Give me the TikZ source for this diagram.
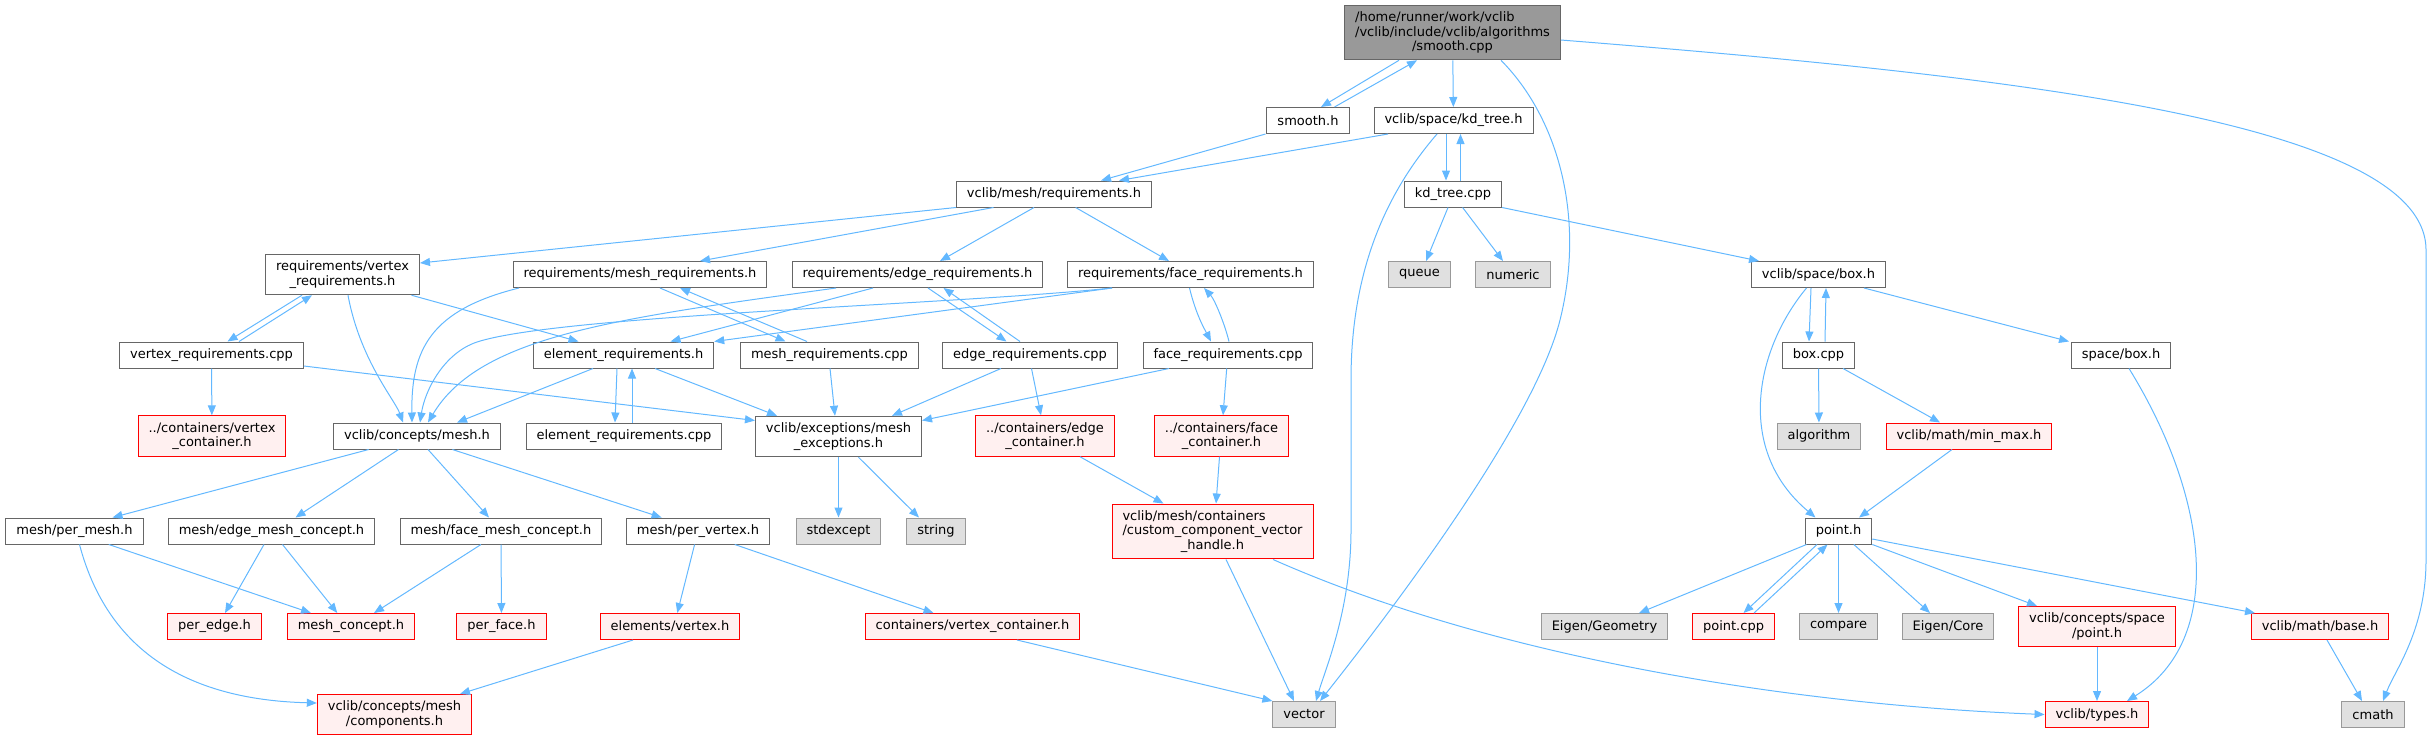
\documentclass[tikz,border=0pt]{standalone}
\usepackage{fontspec}
\setmainfont{DejaVu Sans}
\usepackage{xcolor}
\usepackage{tikz}
\usetikzlibrary{arrows.meta}
\definecolor{edgeblue}{HTML}{63B8FF}

\begin{document}
\begin{tikzpicture}[x=1pt, y=-1pt,
  fl/.style={draw=black!60, line width=1pt, fill=white, align=center, font=\fontsize{13}{14.5}\selectfont, inner xsep=10.5pt, inner ysep=6.5pt, minimum height=26pt},
  sy/.style={fl, draw=black!40, fill=black!12},
  rd/.style={fl, draw=red, fill=red!6},
  cur/.style={fl, fill=black!40},
  arr/.style={-{Triangle[length=10pt,width=8pt]}, line width=1pt, draw=edgeblue}]
\useasboundingbox (0,0) rectangle (2432,740);
\node[cur] (rt) at (1452.5,32.5) {\rlap{/home/runner/work/vclib}\hphantom{/vclib/include/vclib/algorithms}\\/vclib/include/vclib/algorithms\\/smooth.cpp};
\node[fl] (smh) at (1308,120.5) {smooth.h};
\node[fl] (kdh) at (1453.5,120.5) {vclib/space/kd\_tree.h};
\node[fl] (mreq) at (1054,194) {vclib/mesh/requirements.h};
\node[fl] (kdc) at (1453,194) {kd\_tree.cpp};
\node[fl] (vrh) at (342.5,274.5) {requirements/vertex\\\_requirements.h};
\node[fl] (mrh) at (640,274.5) {requirements/mesh\_requirements.h};
\node[fl] (erh) at (917.5,274.5) {requirements/edge\_requirements.h};
\node[fl] (frh) at (1190.5,274.5) {requirements/face\_requirements.h};
\node[sy] (que) at (1419.5,274.5) {queue};
\node[sy] (num) at (1513,274.5) {numeric};
\node[fl] (bxh) at (1818.5,274.5) {vclib/space/box.h};
\node[fl] (vrc) at (211.5,355) {vertex\_requirements.cpp};
\node[fl] (elh) at (623.5,355) {element\_requirements.h};
\node[fl] (mrc) at (829.5,355) {mesh\_requirements.cpp};
\node[fl] (erc) at (1030,355) {edge\_requirements.cpp};
\node[fl] (frc) at (1228,355) {face\_requirements.cpp};
\node[fl] (bxc) at (1818.5,355) {box.cpp};
\node[fl] (sbx) at (2121,355) {space/box.h};
\node[rd] (vcn) at (212,436) {../containers/vertex\\\_container.h};
\node[fl] (cmh) at (417,436) {vclib/concepts/mesh.h};
\node[fl] (elc) at (624,436) {element\_requirements.cpp};
\node[fl] (exc) at (838.5,436.5) {vclib/exceptions/mesh\\\_exceptions.h};
\node[rd] (ecn) at (1045,436) {../containers/edge\\\_container.h};
\node[rd] (fcn) at (1221.5,436) {../containers/face\\\_container.h};
\node[sy] (alg) at (1819,436) {algorithm};
\node[rd] (mmx) at (1969,436) {vclib/math/min\_max.h};
\node[fl] (pmh) at (74.5,531) {mesh/per\_mesh.h};
\node[fl] (emc) at (271.5,531) {mesh/edge\_mesh\_concept.h};
\node[fl] (fmc) at (501,531) {mesh/face\_mesh\_concept.h};
\node[fl] (pvx) at (698,531) {mesh/per\_vertex.h};
\node[sy] (sex) at (838.5,531) {stdexcept};
\node[sy] (str) at (936,531) {string};
\node[rd] (cvh) at (1212.5,531.5) {\rlap{vclib/mesh/containers}\hphantom{/custom\_component\_vector}\\/custom\_component\_vector\\\_handle.h};
\node[fl] (pth) at (1838.5,531) {point.h};
\node[rd] (ped) at (214.5,626.5) {per\_edge.h};
\node[rd] (mcp) at (351,626.5) {mesh\_concept.h};
\node[rd] (pfc) at (501.5,626.5) {per\_face.h};
\node[rd] (evx) at (670,626.5) {elements/vertex.h};
\node[rd] (cvc) at (972.5,626.5) {containers/vertex\_container.h};
\node[sy] (egm) at (1604.5,626.5) {Eigen/Geometry};
\node[rd] (ptc) at (1733.5,626.5) {point.cpp};
\node[sy] (cmp) at (1838.5,626.5) {compare};
\node[sy] (ecr) at (1948,626.5) {Eigen/Core};
\node[rd] (csp) at (2097,626.5) {vclib/concepts/space\\/point.h};
\node[rd] (mbs) at (2320,626.5) {vclib/math/base.h};
\node[rd] (cmpo) at (394.5,714.5) {vclib/concepts/mesh\\/components.h};
\node[sy] (vec) at (1304,714.5) {vector};
\node[rd] (typ) at (2097,714.5) {vclib/types.h};
\node[sy] (cmt) at (2373,714.5) {cmath};
\draw[arr] ([xshift=-53.5]rt.south) -- ([xshift=13]smh.north); \draw[arr] ([xshift=26.5]smh.north) -- ([xshift=-35.5]rt.south);
\draw[arr] (rt) -- (kdh);
\draw[arr] ([xshift=48.5]rt.south) .. controls (1560,120) and (1585,220) .. (1560,320) .. controls (1535,420) and (1400,600) .. ([xshift=16]vec.north);
\draw[arr] ([yshift=-7.5]rt.east) .. controls (2000,75) and (2426,120) .. (2426,250) -- (2426,560) .. controls (2426,630) and (2395,670) .. ([xshift=10]cmt.north);
\draw[arr] ([xshift=-42.5]smh.south) -- ([xshift=47]mreq.north); \draw[arr] ([xshift=-65.5]kdh.south) -- ([xshift=65]mreq.north);
\draw[arr] ([xshift=-7.5]kdh.south) -- ([xshift=-7]kdc.north); \draw[arr] ([xshift=7.5]kdc.north) -- ([xshift=7]kdh.south);
\draw[arr] ([xshift=-16.5]kdh.south) .. controls (1380,200) and (1351,280) .. (1351,380) -- (1351,530) .. controls (1351,610) and (1325,670) .. ([xshift=12]vec.north);
\draw[arr] ([xshift=-5]kdc.south) -- ([xshift=6.5]que.north); \draw[arr] ([xshift=9.6]kdc.south) -- ([xshift=-10]num.north);
\draw[arr] (kdc.south east) -- ([xshift=-59.5]bxh.north);
\draw[arr] (mreq.south west) -- ([yshift=11.5]vrh.east); \draw[arr] ([xshift=-60.5]mreq.south) -- ([xshift=60]mrh.north);
\draw[arr] ([xshift=-20]mreq.south) -- ([xshift=22.5]erh.north); \draw[arr] ([xshift=21.6]mreq.south) -- ([xshift=-21.5]frh.north);
\draw[arr] ([xshift=-40.5]vrh.south) -- ([xshift=16]vrc.north); \draw[arr] ([xshift=27.5]vrc.north) -- ([xshift=-30.5]vrh.south);
\draw[arr] ([xshift=69]vrh.south) -- ([xshift=-45]elh.north);
\draw[arr] ([xshift=5.5]vrh.south) .. controls (360,360) and (395,400) .. ([xshift=-14]cmh.north);
\draw[arr] (vrc) -- (vcn); \draw[arr] ([yshift=-11]vrc.east) -- ([yshift=16]exc.west);
\draw[arr] ([xshift=-121]mrh.south) .. controls (430,310) and (411,350) .. ([xshift=-5]cmh.north);
\draw[arr] ([xshift=20]mrh.south) -- ([xshift=-44]mrc.north); \draw[arr] ([xshift=-22.5]mrc.north) -- ([xshift=40]mrh.south);
\draw[arr] ([xshift=-81.5]erh.south) .. controls (620,318) and (480,335) .. ([xshift=11]cmh.north);
\draw[arr] ([xshift=-44.5]erh.south) -- ([xshift=47]elh.north);
\draw[arr] ([xshift=10.5]erh.south) -- ([xshift=-23.5]erc.north); \draw[arr] ([xshift=-10]erc.north) -- ([xshift=26]erh.south);
\draw[arr] ([xshift=-78.5]frh.south) .. controls (950,305) and (560,315) .. (477,342) .. controls (444,353) and (425,390) .. ([xshift=3]cmh.north);
\draw[arr] ([xshift=-78.5]frh.south) -- (elh.north east);
\draw[arr] ([xshift=-1]frh.south) .. controls (1196,315) and (1205,330) .. ([xshift=-17]frc.north);
\draw[arr] ([xshift=1]frc.north) .. controls (1225,325) and (1215,300) .. ([xshift=13.5]frh.south);
\draw[arr] ([xshift=-30.5]elh.south) -- ([xshift=40]cmh.north);
\draw[arr] ([xshift=-6.5]elh.south) -- ([xshift=-9]elc.north); \draw[arr] ([xshift=8]elc.north) -- ([xshift=8.5]elh.south);
\draw[arr] ([xshift=31.5]elh.south) -- ([xshift=-61.5]exc.north);
\draw[arr] ([xshift=0.5]mrc.south) -- ([xshift=-3.5]exc.north); \draw[arr] ([xshift=-29]erc.south) -- ([xshift=53.5]exc.north);
\draw[arr] ([xshift=-59]frc.south) -- ([yshift=16]exc.east);
\draw[arr] ([xshift=1.5]erc.south) -- ([xshift=-4]ecn.north); \draw[arr] ([xshift=-1.3]frc.south) -- ([xshift=1.5]fcn.north);
\draw[arr] ([xshift=35]ecn.south) -- ([xshift=-49]cvh.north); \draw[arr] ([xshift=-2]fcn.south) -- ([xshift=3.5]cvh.north);
\draw[arr] ([xshift=13.5]cvh.south) -- ([xshift=-10]vec.north);
\draw[arr] ([xshift=60.5]cvh.south) .. controls (1500,660) and (1800,705) .. (typ.west);
\draw[arr] (exc) -- (sex); \draw[arr] ([xshift=20]exc.south) -- ([xshift=-17]str.north);
\draw[arr] ([xshift=44.5]cvc.south) -- (vec.north west);
\draw[arr] ([xshift=-48.3]cmh.south) -- ([xshift=38]pmh.north); \draw[arr] ([xshift=-18.5]cmh.south) -- ([xshift=24]emc.north);
\draw[arr] ([xshift=11]cmh.south) -- ([xshift=-12]fmc.north); \draw[arr] ([xshift=35.4]cmh.south) -- ([xshift=-36.4]pvx.north);
\draw[arr] ([xshift=34.3]pmh.south) -- ([xshift=-40]mcp.north);
\draw[arr] ([xshift=5]pmh.south) .. controls (110,660) and (200,700) .. ([yshift=11.5]cmpo.west);
\draw[arr] ([xshift=-7.5]emc.south) -- ([xshift=10.5]ped.north); \draw[arr] ([xshift=11]emc.south) -- ([xshift=-13.7]mcp.north);
\draw[arr] ([xshift=-20]fmc.south) -- ([xshift=23]mcp.north); \draw[arr] (fmc) -- (pfc);
\draw[arr] ([xshift=-3.4]pvx.south) -- ([xshift=7.3]evx.north); \draw[arr] ([xshift=36.8]pvx.south) -- ([xshift=-39]cvc.north);
\draw[arr] ([xshift=-37]evx.south) -- ([xshift=65.5]cmpo.north);
\draw[arr] ([xshift=-7.5]bxh.south) -- ([xshift=-9.5]bxc.north); \draw[arr] ([xshift=6.5]bxc.north) -- ([xshift=7.5]bxh.south);
\draw[arr] ([xshift=45.5]bxh.south) -- ([xshift=-52]sbx.north);
\draw[arr] ([xshift=-12]bxh.south) .. controls (1755,350) and (1735,450) .. ([xshift=-23]pth.north);
\draw[arr] (bxc) -- (alg); \draw[arr] ([xshift=24.5]bxc.south) -- ([xshift=-29]mmx.north);
\draw[arr] ([xshift=-17]mmx.south) -- ([xshift=20.5]pth.north);
\draw[arr] ([xshift=8]sbx.south) .. controls (2210,500) and (2225,640) .. ([xshift=30]typ.north);
\draw[arr] ([xshift=-32]pth.south) -- ([xshift=34.5]egm.north);
\draw[arr] ([xshift=-21.5]pth.south) -- ([xshift=10]ptc.north); \draw[arr] ([xshift=20.5]ptc.north) -- ([xshift=-11]pth.south);
\draw[arr] (pth) -- (cmp); \draw[arr] ([xshift=15.3]pth.south) -- ([xshift=-18]ecr.north);
\draw[arr] (pth.south east) -- ([xshift=-60]csp.north); \draw[arr] ([yshift=-8]pth.east) -- ([xshift=-65]mbs.north);
\draw[arr] (csp) -- (typ); \draw[arr] ([xshift=7]mbs.south) -- ([xshift=-11]cmt.north);
\end{tikzpicture}
\end{document}
